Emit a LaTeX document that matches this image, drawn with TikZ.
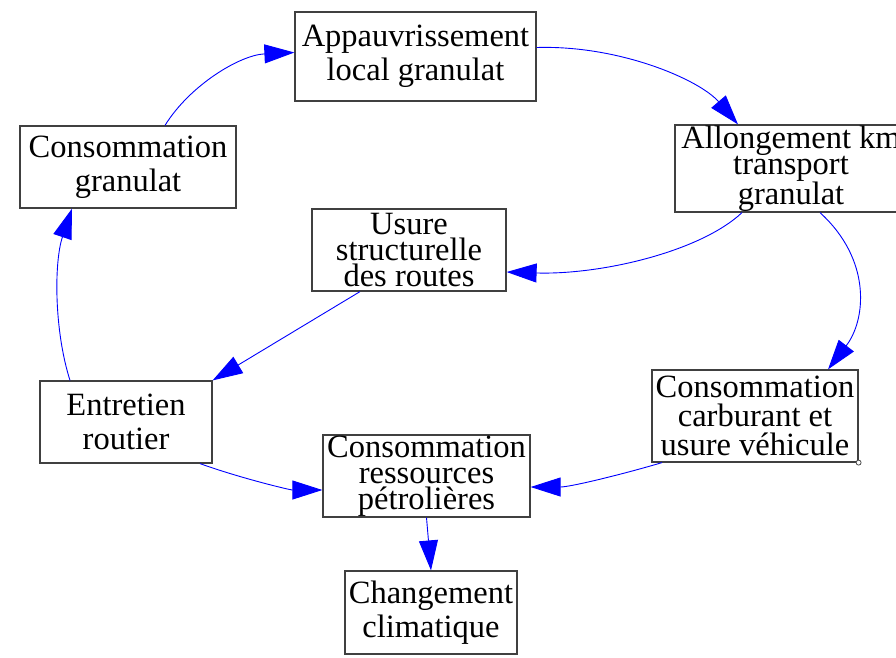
\documentclass[tikz,border=0pt]{standalone}
\usepackage{fontspec}
\setmainfont{Liberation Serif}
\usetikzlibrary{arrows.meta}
\begin{document}
\begin{tikzpicture}[x=1pt,y=-1pt,
  box/.style={draw=black!75, line width=1.2pt, fill=white, inner sep=0pt, align=center,
    font=\fontsize{32.5}{34}\selectfont},
  tight/.style={font=\fontsize{32.5}{26}\selectfont},
  link/.style={draw=blue, line width=0.9pt, -{Triangle[length=30pt,width=19pt,fill=blue]}}]
\useasboundingbox (0,0) rectangle (896,657);
\node[box, minimum width=241pt, minimum height=89pt] (ap) at (415.5,56.5) {Appauvrissement\\local granulat};
\node[box, tight, minimum width=232pt, minimum height=87pt] (al) at (791,168.5) {Allongement km\\transport\\granulat};
\node[box, tight, minimum width=194pt, minimum height=82pt] (us) at (409,250) {Usure\\structurelle\\des routes};
\node[box, minimum width=216pt, minimum height=82pt] (cg) at (128,167) {Consommation\\granulat};
\node[box, minimum width=172pt, minimum height=82pt] (er) at (126,422) {Entretien\\routier};
\node[box, font=\fontsize{32.5}{29}\selectfont, minimum width=206pt, minimum height=92pt] (cc) at (755,416) {Consommation\\carburant et\\usure véhicule};
\node[box, tight, minimum width=207pt, minimum height=82pt] (cr) at (426.5,476) {Consommation\\ressources\\pétrolières};
\node[box, minimum width=172pt, minimum height=83pt] (ch) at (431,612.5) {Changement\\climatique};
\node[circle, draw=black!70, fill=white, line width=0.8pt, inner sep=0pt, minimum size=5pt] (dot) at (cc.south east) {};

\draw[link] ([xshift=37pt]cg.north) .. controls (190,85) and (240,55) .. ([yshift=4pt]ap.west);
\draw[link] ([yshift=9pt]ap.east) .. controls (620,45) and (700,80) .. ([xshift=-53pt]al.north);
\draw[link] ([xshift=-49pt]al.south) .. controls (700,252) and (600,275) .. ([yshift=-22pt]us.east);
\draw[link] ([xshift=29pt]al.south) .. controls (872,260) and (866,320) .. ([xshift=73pt]cc.north);
\draw[link] ([xshift=-49pt]us.south) -- (er.north east);
\draw[link] ([xshift=-56pt]er.north) .. controls (54,330) and (54,262) .. ([xshift=-56pt]cg.south);
\draw[link] ([xshift=74pt]er.south) .. controls (240,478) and (290,490) .. ([yshift=-14pt]cr.west);
\draw[link] ([xshift=-93pt]cc.south) .. controls (620,475) and (570,487) .. ([yshift=-11pt]cr.east);
\draw[link] (cr.south) -- (ch.north);
\end{tikzpicture}
\end{document}
